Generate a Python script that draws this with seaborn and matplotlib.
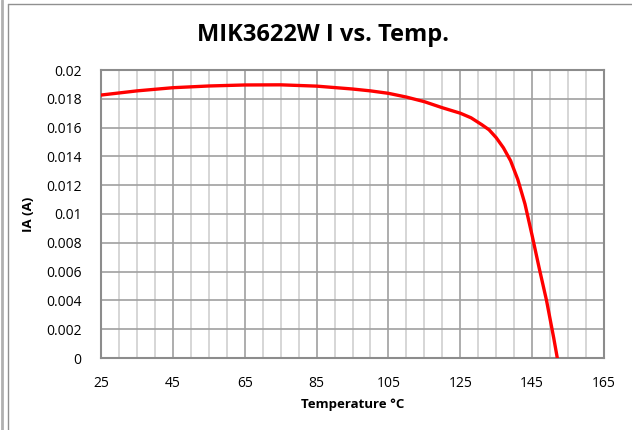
import pandas as pd
import seaborn as sns
import matplotlib.pyplot as plt
from matplotlib.lines import Line2D
from matplotlib.ticker import MultipleLocator

# values
temperature = [25, 35, 45, 55, 65, 75, 85, 95, 100, 105, 110, 115, 120, 125, 128, 131, 133, 135, 137,
               139, 141, 143, 145, 147, 149, 151, 152]
current_a = [0.01826, 0.01855, 0.01877, 0.01889, 0.01896, 0.01897, 0.01888, 0.01868, 0.01855, 0.01838,
             0.01812, 0.0178, 0.01738, 0.0170, 0.01668, 0.0162, 0.01585, 0.0153, 0.0146,
             0.0137, 0.0124, 0.0107, 0.0085, 0.0062, 0.0040, 0.0014, 0.0]
x_ticks = [25, 45, 65, 85, 105, 125, 145, 165]
y_ticks = [0, 0.002, 0.004, 0.006, 0.008, 0.01, 0.012, 0.014, 0.016, 0.018, 0.02]
y_tick_labels = ['0', '0.002', '0.004', '0.006', '0.008', '0.01', '0.012', '0.014', '0.016', '0.018', '0.02']

df = pd.DataFrame({'temp': temperature, 'ia': current_a})

sns.set_theme(style='white')
plt.rcParams['font.family'] = ['Open Sans', 'DejaVu Sans']

fig = plt.figure(figsize=(6.32, 4.30), dpi=100)
ax = fig.add_axes([101 / 632, 1 - 358 / 430, 503 / 632, 288 / 430])

# grid: minor every 5 degrees (light), major every 20, horizontal every 0.002
ax.set_xlim(25, 165)
ax.set_ylim(0, 0.02)
ax.set_xticks(x_ticks)
ax.set_yticks(y_ticks)
ax.set_yticklabels(y_tick_labels)
ax.xaxis.set_minor_locator(MultipleLocator(5))
ax.grid(which='minor', axis='x', color='#d0d0d0', linewidth=1.2)
ax.grid(which='major', axis='x', color='#a0a0a0', linewidth=1.2)
ax.grid(which='major', axis='y', color='#a0a0a0', linewidth=1.2)
ax.set_axisbelow(True)

sns.lineplot(data=df, x='temp', y='ia', ax=ax, color='#ff0000', linewidth=2.4, zorder=3)

for s in ax.spines.values():
    s.set_color('#8c8c8c')
    s.set_linewidth(1.5)

ax.tick_params(axis='both', which='both', length=0, labelsize=10, colors='black')
ax.tick_params(axis='y', pad=14)
ax.tick_params(axis='x', pad=13)

ax.set_xlabel('Temperature °C', fontsize=9.5, fontweight='bold', labelpad=5, color='black')
ax.set_ylabel('IA (A)', fontsize=9.5, fontweight='bold', labelpad=8, color='black')
fig.suptitle('MIK3622W I vs. Temp.', x=323 / 632, y=1 - 35 / 430, fontsize=17, fontweight='bold',
             va='center', color='black')

# chart area frame lines like the Excel export
fig.add_artist(Line2D([2 / 632, 2 / 632], [0, 1], color='#b0b0b0', linewidth=2))
fig.add_artist(Line2D([8 / 632, 8 / 632], [0, 1 - 4 / 430], color='#909090', linewidth=1))
fig.add_artist(Line2D([8 / 632, 1], [1 - 4 / 430, 1 - 4 / 430], color='#909090', linewidth=1))

plt.savefig('out.png', dpi=100)
